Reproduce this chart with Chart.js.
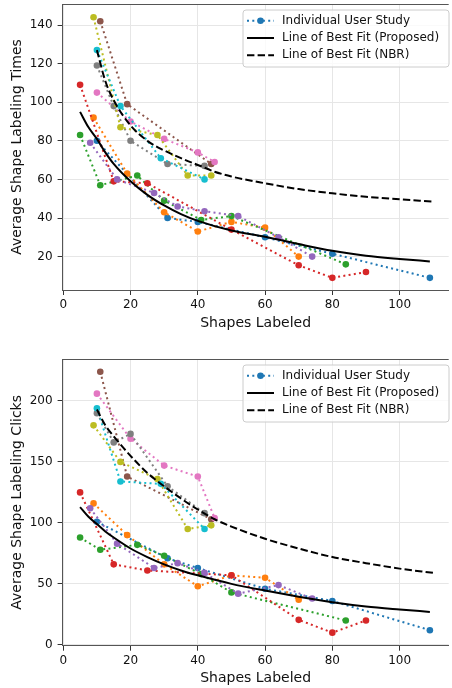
<!DOCTYPE html>
<html lang="en">
<head>
<meta charset="UTF-8">
<title>Shape labeling effort</title>
<script src="https://cdn.jsdelivr.net/npm/chart.js"></script>
<style>
  body { margin: 0; background: #fff; }
  canvas { position: absolute; left: 0; }
  #timesChart { top: 0; }
  #clicksChart { top: 340px; }
</style>
</head>
<body>
<canvas id="timesChart" width="452" height="340"></canvas>
<canvas id="clicksChart" width="452" height="348"></canvas>
<script>
// one colour per participant (matplotlib tab10 order)
const userColors = ['#1f77b4', '#ff7f0e', '#2ca02c', '#d62728', '#9467bd',
                    '#8c564b', '#e377c2', '#7f7f7f', '#bcbd22', '#17becf'];

// shapes labeled at each measurement, per participant
const userShapes = [
  [10, 31, 40, 60, 80, 109],
  [9, 19, 30, 40, 50, 60, 70],
  [5, 11, 22, 30, 41, 50, 84],
  [5, 15, 25, 50, 70, 80, 90],
  [8, 16, 27, 34, 42, 52, 64, 74],
  [11, 19, 44],
  [10, 20, 30, 40, 45],
  [10, 15, 20, 31, 42],
  [9, 17, 28, 37, 44],
  [10, 17, 29, 42]
];
const userTimes = [
  [80, 40, 38, 30, 21.5, 9],
  [92, 63, 43, 33, 38, 35, 20],
  [83, 57, 62, 49, 39, 41, 16],
  [109, 59, 58, 34, 15.5, 9, 12],
  [79, 60, 53, 46, 43.5, 41, 30, 20],
  [142, 99, 68],
  [105, 90, 81, 74, 69],
  [119, 98, 80, 68, 67],
  [144, 87, 83, 62, 62],
  [127, 98, 71, 60]
];
const userClicks = [
  [101, 71, 63, 46, 36, 12],
  [116, 90, 66, 48, 57, 55, 37],
  [88, 78, 82, 73, 58, 43, 20],
  [125, 66, 61, 57, 20.5, 10, 20],
  [112, 83, 63, 67, 59, 42, 49, 38],
  [224, 138, 103],
  [206, 169, 147, 138, 104],
  [190, 166, 173, 130, 108],
  [180, 150, 136, 95, 98],
  [194, 134, 132, 95]
];

// best fit curves, sampled
const proposedShapes = [5, 7.5, 10, 12.5, 15, 20, 25, 30, 35, 40, 50, 60, 70, 80, 90, 100, 109];
const proposedTimes  = [95, 87, 81, 74, 68, 59, 52, 46.5, 42, 38.5, 33.5, 30.3, 26.5, 23, 20.5, 18.8, 17.5];
const proposedClicks = [113, 105, 99, 93, 88, 79, 72, 66, 61, 57, 50, 44.5, 39.5, 35, 31.5, 29, 27];

const nbrShapes = [10, 12.5, 15, 20, 25, 30, 35, 40, 45, 50, 60, 70, 80, 90, 100, 110];
const nbrTimes  = [127, 111, 101, 88, 80, 75, 71, 67.5, 64, 61.5, 58, 55, 52.8, 51, 49.7, 48.5];
const nbrClicks = [193, 180, 171, 155, 141, 130, 120, 111, 103, 97, 87, 79, 72, 67, 62.5, 59];

const FONT = "'DejaVu Sans', sans-serif";
const INK = '#111';

function pts(xs, ys) {
  return xs.map((x, i) => ({ x: x, y: ys[i] }));
}

function buildDatasets(userVals, proposedVals, nbrVals) {
  const sets = userVals.map((ys, i) => ({
    label: 'Individual User Study',
    legend: i === 0,
    data: pts(userShapes[i], ys),
    showLine: true,
    borderColor: userColors[i],
    backgroundColor: userColors[i],
    borderWidth: 2,
    borderDash: [2, 3.3],
    pointRadius: 3.3,
    pointHoverRadius: 3.3,
    pointBorderWidth: 0,
    order: 30 - i
  }));
  sets.push({
    label: 'Line of Best Fit (Proposed)',
    legend: true,
    data: pts(proposedShapes, proposedVals),
    showLine: true,
    borderColor: '#000',
    borderWidth: 2,
    pointRadius: 0,
    cubicInterpolationMode: 'monotone',
    order: 2
  });
  sets.push({
    label: 'Line of Best Fit (NBR)',
    legend: true,
    data: pts(nbrShapes, nbrVals),
    showLine: true,
    borderColor: '#000',
    borderWidth: 2,
    borderDash: [7.4, 3.2],
    pointRadius: 0,
    cubicInterpolationMode: 'monotone',
    order: 1
  });
  return sets;
}

// top spine of the axes box
const frameTop = {
  id: 'frameTop',
  afterDraw(chart) {
    const { ctx, chartArea } = chart;
    ctx.save();
    ctx.strokeStyle = '#555';
    ctx.lineWidth = 1;
    ctx.beginPath();
    ctx.moveTo(chartArea.left, chartArea.top + 0.5);
    ctx.lineTo(chartArea.right, chartArea.top + 0.5);
    ctx.stroke();
    ctx.restore();
  }
};

// matplotlib-style legend box with line samples
const legendBox = {
  id: 'legendBox',
  afterDatasetsDraw(chart, args, opts) {
    const ctx = chart.ctx;
    const { x, y, w, h } = opts;
    const r = 3;
    ctx.save();
    ctx.beginPath();
    ctx.moveTo(x + r, y);
    ctx.lineTo(x + w - r, y);
    ctx.arcTo(x + w, y, x + w, y + r, r);
    ctx.lineTo(x + w, y + h - r);
    ctx.arcTo(x + w, y + h, x + w - r, y + h, r);
    ctx.lineTo(x + r, y + h);
    ctx.arcTo(x, y + h, x, y + h - r, r);
    ctx.lineTo(x, y + r);
    ctx.arcTo(x, y, x + r, y, r);
    ctx.closePath();
    ctx.fillStyle = 'rgba(255,255,255,0.8)';
    ctx.fill();
    ctx.strokeStyle = '#cccccc';
    ctx.lineWidth = 1;
    ctx.stroke();

    const entries = chart.data.datasets.filter(d => d.legend);
    entries.forEach((d, i) => {
      const cy = y + 10.7 + i * 17.3;
      ctx.strokeStyle = d.borderColor;
      ctx.lineWidth = d.borderWidth;
      ctx.setLineDash(d.borderDash || []);
      ctx.beginPath();
      ctx.moveTo(x + 4, cy);
      ctx.lineTo(x + 31, cy);
      ctx.stroke();
      ctx.setLineDash([]);
      if (d.pointRadius) {
        ctx.fillStyle = d.backgroundColor;
        ctx.beginPath();
        ctx.arc(x + 17.5, cy, d.pointRadius, 0, Math.PI * 2);
        ctx.fill();
      }
      ctx.fillStyle = INK;
      ctx.font = '12px ' + FONT;
      ctx.textBaseline = 'middle';
      ctx.fillText(d.label, x + 39, cy);
    });
    ctx.restore();
  }
};

function makeChart(id, p) {
  return new Chart(document.getElementById(id), {
    type: 'scatter',
    data: { datasets: buildDatasets(p.users, p.proposed, p.nbr) },
    plugins: [frameTop, legendBox],
    options: {
      responsive: false,
      animation: false,
      layout: { padding: { top: p.padTop, left: 0, right: 0, bottom: 0 } },
      plugins: {
        legend: { display: false },
        tooltip: { enabled: false },
        legendBox: p.legend
      },
      scales: {
        x: {
          type: 'linear',
          min: -0.2,
          max: 114.6,
          ticks: { stepSize: 20, includeBounds: false, padding: 3, color: INK,
                   font: { family: FONT, size: 12 } },
          grid: { color: '#e6e6e6', tickColor: '#333', tickLength: 5 },
          border: { color: '#555', width: 1 },
          title: { display: true, text: 'Shapes Labeled', color: INK,
                   font: { family: FONT, size: 14 }, padding: { top: 0, bottom: p.xTitlePad } },
          afterFit: s => {
            s.height = p.xAxisHeight;
            s.paddingLeft = 0;
            s.paddingRight = 0;
          }
        },
        y: {
          type: 'linear',
          min: p.yMin,
          max: p.yMax,
          ticks: { stepSize: p.yStep, includeBounds: false, padding: 5, color: INK,
                   font: { family: FONT, size: 12 } },
          grid: { color: '#e6e6e6', tickColor: '#333', tickLength: 5 },
          border: { color: '#555', width: 1 },
          title: { display: true, text: p.yTitle, color: INK,
                   font: { family: FONT, size: 14 }, padding: { top: 8.6, bottom: 0 } },
          afterFit: s => {
            s.width = 62.6;
            s.paddingTop = 0;
            s.paddingBottom = 0;
          }
        }
      }
    }
  });
}

makeChart('timesChart', {
  users: userTimes, proposed: proposedTimes, nbr: nbrTimes,
  yMin: 2.7, yMax: 150.9, yStep: 20, yTitle: 'Average Shape Labeling Times',
  padTop: 4, xAxisHeight: 50, xTitlePad: 8.6,
  legend: { x: 243, y: 10, w: 206, h: 57 }
});

makeChart('clicksChart', {
  users: userClicks, proposed: proposedClicks, nbr: nbrClicks,
  yMin: -0.7, yMax: 234.4, yStep: 50, yTitle: 'Average Shape Labeling Clicks',
  padTop: 19, xAxisHeight: 42.3, xTitlePad: 1.6,
  legend: { x: 243, y: 25, w: 206, h: 57 }
});
</script>
</body>
</html>
